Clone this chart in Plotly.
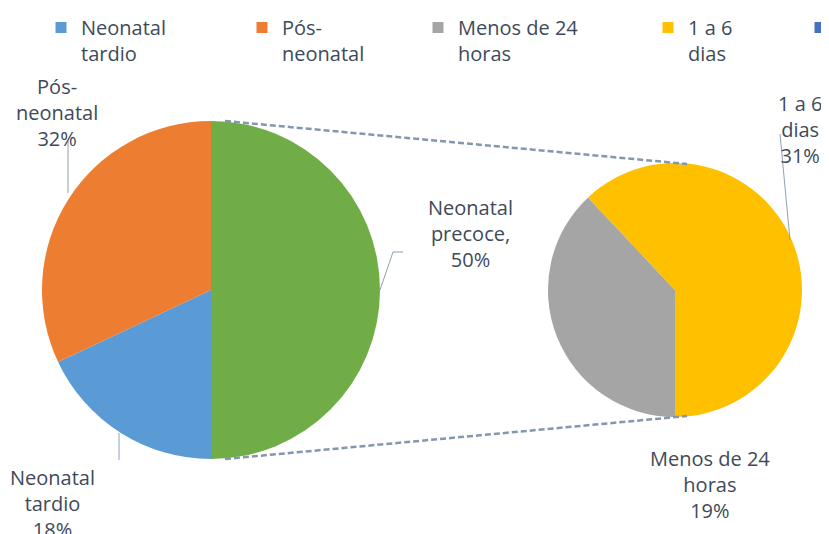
import plotly.graph_objects as go

W, H = 829, 534
OFF = 8  # page body margin offset of the plot div

# ---- data ----
main_labels = ["Neonatal precoce", "Neonatal tardio", "Pós-neonatal"]
main_values = [50, 18, 32]
main_colors = ["#70AD47", "#5B9BD5", "#ED7D31"]
main_text = ["Neonatal<br>precoce,<br>50%", "Neonatal<br>tardio<br>18%", "Pós-<br>neonatal<br>32%"]

sub_labels = ["Menos de 24 horas", "1 a 6 dias"]
sub_values = [19, 31]
sub_colors = ["#A5A5A5", "#FFC000"]
sub_text = ["Menos de 24<br>horas<br>19%", "1 a 6<br>dias<br>31%"]

legend_names = ["Neonatal<br>tardio", "Pós-<br>neonatal", "Menos de 24<br>horas", "1 a 6<br>dias", " "]
legend_colors = ["#5B9BD5", "#ED7D31", "#A5A5A5", "#FFC000", "#4472C4"]

TXT = "#3E4A5A"
LABEL_FONT = dict(family="Open Sans, DejaVu Sans, sans-serif", size=20, color=TXT)
LEG_FONT = dict(family="Open Sans, DejaVu Sans, sans-serif", size=20, color=TXT)


def px(x):
    return (x - OFF) / W


def py(y):
    return 1 - (y - OFF) / H


# pie geometry (screen pixels)
L_CX, L_CY, L_R = 211, 290, 169
R_CX, R_CY, R_R = 675, 290, 127

fig = go.Figure()

fig.add_trace(go.Pie(
    labels=main_labels, values=main_values, sort=False, direction="clockwise", rotation=0,
    marker=dict(colors=main_colors, line=dict(width=0)), textinfo="none", hoverinfo="label+percent",
    showlegend=False,
    domain=dict(x=[px(L_CX - L_R), px(L_CX + L_R)], y=[py(L_CY + L_R), py(L_CY - L_R)]),
))
fig.add_trace(go.Pie(
    labels=sub_labels, values=sub_values, sort=False, direction="clockwise", rotation=180,
    marker=dict(colors=sub_colors, line=dict(width=0)), textinfo="none", hoverinfo="label+value",
    showlegend=False,
    domain=dict(x=[px(R_CX - R_R), px(R_CX + R_R)], y=[py(R_CY + R_R), py(R_CY - R_R)]),
))

# legend entries (one legend box per entry to match the spacing)
leg_text_x = [78, 279, 455, 685, 837]
legends = {}
for i, (n, c) in enumerate(zip(legend_names, legend_colors)):
    key = "legend" if i == 0 else f"legend{i+1}"
    fig.add_trace(go.Scatter(
        x=[None], y=[None], mode="markers", name=n,
        marker=dict(symbol="square", size=11, color=c), legend=key, showlegend=True,
    ))
    legends[key] = dict(
        x=px(leg_text_x[i] - 37), xanchor="left", y=py(8), yanchor="top",
        bgcolor="rgba(0,0,0,0)", font=LEG_FONT, valign="top",
        itemwidth=30, tracegroupgap=0,
    )

# labels
annots = []
lab_pos_main = [(470, 233), (52, 503), (57, 112)]
for t, (x, y) in zip(main_text, lab_pos_main):
    annots.append(dict(x=px(x), y=py(y), xref="paper", yref="paper", text=t, showarrow=False,
                       font=LABEL_FONT, xanchor="center", yanchor="middle", align="center"))
lab_pos_sub = [(710, 484), (800, 129)]
for t, (x, y) in zip(sub_text, lab_pos_sub):
    annots.append(dict(x=px(x), y=py(y), xref="paper", yref="paper", text=t, showarrow=False,
                       font=LABEL_FONT, xanchor="center", yanchor="middle", align="center"))

LINE_C = "#8FA0B4"
DASH_C = "#8496B0"
shapes = [
    # connector lines between the pies
    dict(type="line", xref="paper", yref="paper", x0=px(L_CX + 14), y0=py(L_CY - L_R), x1=px(R_CX + 12), y1=py(R_CY - R_R + 1),
         line=dict(color=DASH_C, width=2.5, dash="6px,3px")),
    dict(type="line", xref="paper", yref="paper", x0=px(L_CX + 14), y0=py(L_CY + L_R), x1=px(R_CX + 12), y1=py(R_CY + R_R - 1),
         line=dict(color=DASH_C, width=2.5, dash="6px,3px")),
    # leader lines
    dict(type="line", xref="paper", yref="paper", x0=px(68), y0=py(141), x1=px(68), y1=py(193),
         line=dict(color=LINE_C, width=1)),
    dict(type="line", xref="paper", yref="paper", x0=px(119), y0=py(433), x1=px(119), y1=py(460),
         line=dict(color=LINE_C, width=1)),
    dict(type="path", xref="paper", yref="paper",
         path=f"M {px(380)} {py(290)} L {px(393)} {py(252)} L {px(403)} {py(252)}",
         line=dict(color=LINE_C, width=1)),
    dict(type="line", xref="paper", yref="paper", x0=px(780), y0=py(134), x1=px(790), y1=py(240),
         line=dict(color=LINE_C, width=1)),
]

fig.update_layout(
    width=W, height=H,
    margin=dict(l=0, r=0, t=0, b=0, autoexpand=False),
    paper_bgcolor="white", plot_bgcolor="white",
    xaxis=dict(visible=False), yaxis=dict(visible=False),
    annotations=annots, shapes=shapes,
    **legends,
)

fig.write_html("out.html")
